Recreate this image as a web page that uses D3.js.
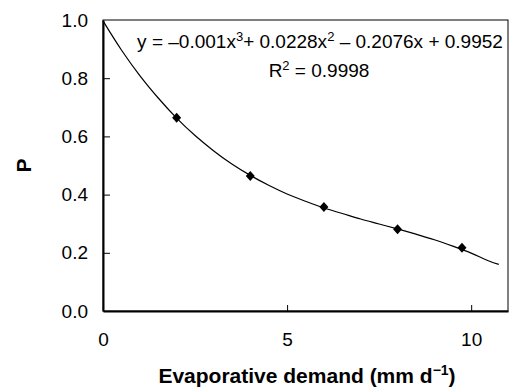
<!DOCTYPE html>
<html>
<head>
<meta charset="utf-8">
<script src="https://cdn.jsdelivr.net/npm/d3@7"></script>
<style>
  body { margin: 0; background: #fff; }
  text { font-family: "Liberation Sans", Arial, sans-serif; fill: #000; }
</style>
</head>
<body>
<div id="chart"></div>
<script>
// measured points
const demand = [2, 4, 6, 8, 9.75];
const pValues = [0.664, 0.464, 0.357, 0.281, 0.217];

// trendline
const trendX = [0, 0.5, 1, 1.5, 2, 2.5, 3, 3.5, 4, 4.5, 5, 5.5, 6, 6.5, 7, 7.5, 8, 8.5, 9, 9.5, 10, 10.5, 10.75];
const trendY = [0.997, 0.897, 0.809, 0.732, 0.663, 0.603, 0.551, 0.505, 0.466, 0.432, 0.402, 0.377, 0.354, 0.335, 0.316, 0.299, 0.282, 0.264, 0.245, 0.223, 0.199, 0.171, 0.16];

const xTicks = [0, 5, 10];
const yTicks = [0, 0.2, 0.4, 0.6, 0.8, 1.0];

const width = 511, height = 388;
const margin = { top: 20, right: 3, bottom: 77, left: 103 };

const svg = d3.select("#chart").append("svg")
    .attr("width", width)
    .attr("height", height);

const x = d3.scaleLinear().domain([0, 11]).range([margin.left, width - margin.right]);
const y = d3.scaleLinear().domain([0, 1]).range([height - margin.bottom, margin.top]);

// frame: thin top/right, heavier left/bottom
svg.append("rect")
    .attr("x", x(0)).attr("y", y(1))
    .attr("width", x(11) - x(0)).attr("height", y(0) - y(1))
    .attr("fill", "none").attr("stroke", "#000").attr("stroke-width", 1);

const xAxis = svg.append("g")
    .attr("transform", `translate(0,${y(0)})`)
    .call(d3.axisBottom(x).tickValues(xTicks).tickSizeInner(-6).tickSizeOuter(0).tickPadding(22).tickFormat(d3.format("d")));
xAxis.select(".domain").attr("stroke-width", 2);
xAxis.selectAll("text").style("font-size", "19px").attr("font-family", null);

const yAxis = svg.append("g")
    .attr("transform", `translate(${x(0)},0)`)
    .call(d3.axisLeft(y).tickValues(yTicks).tickSizeInner(-7).tickSizeOuter(0).tickPadding(15).tickFormat(d3.format(".1f")));
yAxis.select(".domain").attr("stroke-width", 2);
yAxis.selectAll("text").style("font-size", "19px").attr("font-family", null);
// hide tick stubs at the frame corners
xAxis.selectAll(".tick line").filter(d => d === 0).remove();
yAxis.selectAll(".tick line").filter(d => d === 0 || d === 1).remove();

// trendline
const trend = trendX.map((d, i) => ({ x: d, y: trendY[i] }));
svg.append("path")
    .datum(trend)
    .attr("fill", "none")
    .attr("stroke", "#000")
    .attr("stroke-width", 1.2)
    .attr("d", d3.line().x(d => x(d.x)).y(d => y(d.y)).curve(d3.curveMonotoneX));

// markers
const pts = demand.map((d, i) => ({ x: d, y: pValues[i] }));
svg.selectAll(".pt").data(pts).join("path")
    .attr("class", "pt")
    .attr("transform", d => `translate(${x(d.x)},${y(d.y)})`)
    .attr("d", "M0,-5L4.5,0L0,5L-4.5,0Z")
    .attr("fill", "#000");

// equation + r squared
const eq = svg.append("text")
    .attr("x", 320).attr("y", 48)
    .attr("text-anchor", "middle")
    .style("font-size", "19px");
eq.append("tspan").text("y = \u20130.001x");
eq.append("tspan").attr("dy", -7).style("font-size", "13px").text("3");
eq.append("tspan").attr("dy", 7).text("+ 0.0228x");
eq.append("tspan").attr("dy", -7).style("font-size", "13px").text("2");
eq.append("tspan").attr("dy", 7).text(" \u2013 0.2076x + 0.9952");

const r2 = svg.append("text")
    .attr("x", 319).attr("y", 77)
    .attr("text-anchor", "middle")
    .style("font-size", "19px");
r2.append("tspan").text("R");
r2.append("tspan").attr("dy", -7).style("font-size", "13px").text("2");
r2.append("tspan").attr("dy", 7).text(" = 0.9998");

// axis titles
const xt = svg.append("text")
    .attr("x", 307).attr("y", 383)
    .attr("text-anchor", "middle")
    .style("font-size", "21px").style("font-weight", "bold");
xt.append("tspan").text("Evaporative demand (mm d");
xt.append("tspan").attr("dy", -8).style("font-size", "14px").text("\u22121");
xt.append("tspan").attr("dy", 8).text(")");

svg.append("text")
    .attr("transform", `translate(31,${(y(0) + y(1)) / 2}) rotate(-90)`)
    .attr("text-anchor", "middle")
    .style("font-size", "21px").style("font-weight", "bold")
    .text("P");
</script>
</body>
</html>
